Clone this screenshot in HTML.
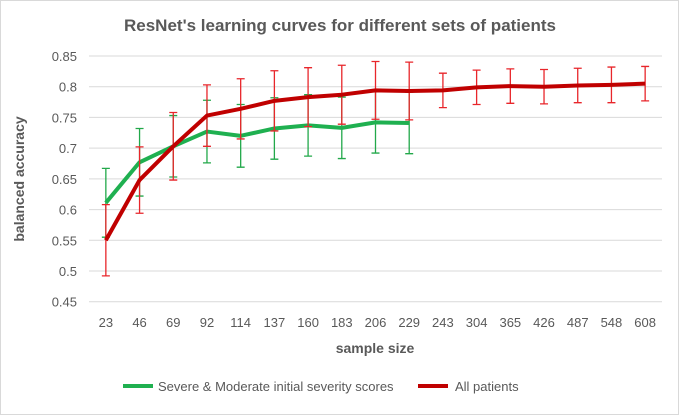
<!DOCTYPE html>
<html><head><meta charset="utf-8"><style>
body{margin:0;background:#fff}
svg{display:block;font-family:"Liberation Sans",Arial,sans-serif}
</style></head><body>
<svg id="chart" width="679" height="415">
<rect x="0.5" y="0.5" width="678" height="414" fill="#fff" stroke="#d9d9d9"/>
<text x="340" y="31" text-anchor="middle" font-size="17" font-weight="bold" fill="#595959">ResNet's learning curves for different sets of patients</text>
<g id="grid"></g><g id="yt"></g><g id="xt"></g><g id="series"></g>
<text transform="translate(24,179) rotate(-90)" text-anchor="middle" font-size="14" font-weight="bold" fill="#595959">balanced accuracy</text>
<text x="375" y="353" text-anchor="middle" font-size="14" font-weight="bold" fill="#595959">sample size</text>
<g>
<g><line x1="123" y1="386" x2="153" y2="386" stroke="#1fb050" stroke-width="4"/><text x="158" y="391" font-size="13" fill="#595959">Severe &amp; Moderate initial severity scores</text></g>
<g><line x1="418" y1="386" x2="448" y2="386" stroke="#c00000" stroke-width="4"/><text x="455" y="391" font-size="13" fill="#595959">All patients</text></g>
</g>
</svg>
<script>
const categories=[23,46,69,92,114,137,160,183,206,229,243,304,365,426,487,548,608];
const severeValues=[0.611,0.677,0.703,0.727,0.72,0.732,0.737,0.733,0.742,0.741];
const severeErrors=[0.056,0.055,0.05,0.051,0.051,0.05,0.05,0.05,0.05,0.05];
const allValues=[0.55,0.648,0.703,0.753,0.764,0.777,0.783,0.787,0.794,0.793,0.794,0.799,0.801,0.80,0.802,0.803,0.805];
const allErrors=[0.058,0.054,0.055,0.05,0.049,0.049,0.048,0.048,0.047,0.047,0.028,0.028,0.028,0.028,0.028,0.029,0.028];
const yTicks=[0.45,0.5,0.55,0.6,0.65,0.7,0.75,0.8,0.85];
const yTickLabels=["0.45","0.5","0.55","0.6","0.65","0.7","0.75","0.8","0.85"];
const L=89,R=662,T=56,B=301.7,yMin=0.45,yMax=0.85;
const step=(R-L)/categories.length;
const xs=i=>L+step*(i+0.5);
const ys=v=>B-(v-yMin)/(yMax-yMin)*(B-T);
const NS="http://www.w3.org/2000/svg";
function mk(tag,attrs,parent){const e=document.createElementNS(NS,tag);for(const k in attrs)e.setAttribute(k,attrs[k]);parent.appendChild(e);return e;}
const grid=document.getElementById('grid'),yt=document.getElementById('yt'),xt=document.getElementById('xt'),ser=document.getElementById('series');
yTicks.forEach((v,i)=>{
 const l=mk('line',{x1:L,x2:R,y1:ys(v),y2:ys(v),stroke:'#d9d9d9','stroke-width':1},grid);
 
 
 const t=mk('text',{x:L-12,y:ys(v)+5,'text-anchor':'end','font-size':13,fill:'#595959'},yt);
 t.textContent=yTickLabels[i];
 
 
});
categories.forEach((c,i)=>{
 const t=mk('text',{x:xs(i),y:327,'text-anchor':'middle','font-size':13,fill:'#595959'},xt);
 t.textContent=c;
 
 
});
function drawSeries(vals,errs,lineCol,errCol,name){
 const g=mk('g',{},ser);
 
 
 vals.forEach((v,i)=>{
  const x=xs(i),y1=ys(v+errs[i]),y2=ys(v-errs[i]);
  const e=mk('path',{d:`M${x},${y1}V${y2}M${x-4},${y1}H${x+4}M${x-4},${y2}H${x+4}`,stroke:errCol,'stroke-width':1.3,fill:'none'},g);
  
  
 });
 const p=mk('polyline',{points:vals.map((v,i)=>xs(i)+','+ys(v)).join(' '),stroke:lineCol,'stroke-width':4,fill:'none','stroke-linejoin':'round'},g);
 
 
}
drawSeries(severeValues,severeErrors,'#1fb050','#22a84a','severe-moderate');
drawSeries(allValues,allErrors,'#c00000','#e8262b','all-patients');
</script>
</body></html>
